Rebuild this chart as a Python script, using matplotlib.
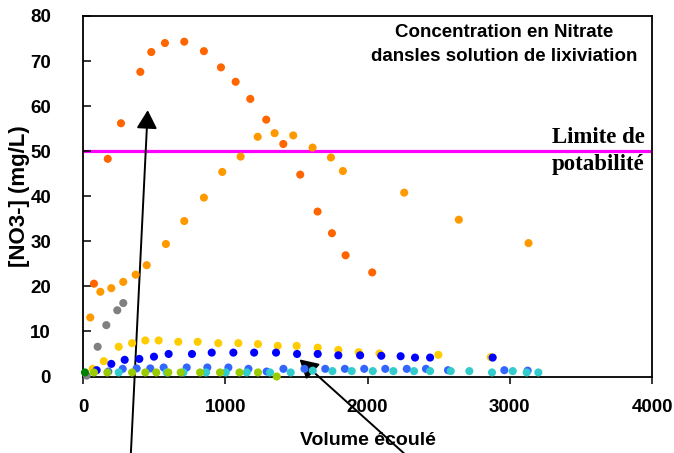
import matplotlib
matplotlib.use("Agg")
import matplotlib.pyplot as plt

# ---------------- data ----------------
x_dark_orange = [77, 174, 267, 403, 480, 576, 712, 850, 970, 1073, 1176, 1288, 1408, 1527, 1649, 1750, 1846, 2033]
y_dark_orange = [20.6, 48.3, 56.2, 67.6, 72.0, 74.0, 74.3, 72.2, 68.6, 65.4, 61.6, 57.0, 51.6, 44.8, 36.6, 31.8, 26.9, 23.1]

x_light_orange = [51, 122, 199, 283, 370, 448, 583, 712, 850, 979, 1108, 1228, 1347, 1478, 1614, 1743, 1827, 2258, 2642, 3132]
y_light_orange = [13.1, 18.8, 19.6, 21.0, 22.6, 24.7, 29.4, 34.5, 39.7, 45.4, 48.8, 53.2, 54.0, 53.5, 50.8, 48.6, 45.6, 40.8, 34.8, 29.6]

x_grey = [26, 103, 164, 241, 283]
y_grey = [0.2, 6.6, 11.4, 14.7, 16.3]

x_yellow = [68, 146, 251, 345, 438, 532, 670, 806, 951, 1092, 1230, 1369, 1502, 1650, 1795, 1938, 2084, 2498, 2866]
y_yellow = [1.7, 3.4, 6.6, 7.4, 8.0, 8.0, 7.7, 7.7, 7.4, 7.4, 7.2, 6.8, 6.8, 6.4, 5.9, 5.4, 5.1, 4.8, 4.3]

x_blue = [96, 199, 293, 396, 499, 602, 766, 905, 1057, 1203, 1357, 1505, 1650, 1795, 1948, 2097, 2233, 2334, 2440, 2880]
y_blue = [1.4, 2.8, 3.7, 3.9, 4.4, 5.0, 5.0, 5.3, 5.3, 5.3, 5.3, 5.0, 5.0, 4.7, 4.7, 4.6, 4.5, 4.2, 4.2, 4.2]

x_light_blue = [178, 279, 377, 473, 567, 729, 874, 1022, 1163, 1291, 1409, 1557, 1703, 1841, 1977, 2125, 2276, 2411, 2566, 2962, 3126]
y_light_blue = [1.1, 1.7, 1.8, 1.8, 2.0, 2.0, 2.0, 2.0, 1.7, 1.1, 1.7, 1.7, 1.7, 1.7, 1.7, 1.7, 1.7, 1.7, 1.4, 1.4, 1.3]

x_cyan = [251, 588, 706, 865, 1004, 1151, 1315, 1460, 1615, 1753, 1889, 2037, 2182, 2327, 2440, 2585, 2716, 2875, 3021, 3119, 3201]
y_cyan = [0.9, 0.9, 0.9, 0.9, 0.9, 0.9, 0.9, 0.9, 1.3, 1.2, 1.2, 1.2, 1.2, 1.2, 1.2, 1.2, 1.2, 0.9, 1.2, 0.9, 0.9]

x_yellow_green = [77, 171, 345, 438, 515, 600, 687, 823, 963, 1100, 1230, 1362]
y_yellow_green = [0.9, 0.9, 0.9, 0.9, 0.9, 0.9, 0.9, 0.9, 0.9, 0.9, 0.9, 0.0]

x_dark_green = [14]
y_dark_green = [0.9]

limit_value = 50
x_ticks = [0, 1000, 2000, 3000, 4000]
y_ticks = [0, 10, 20, 30, 40, 50, 60, 70, 80]

# ---------------- figure ----------------
plt.rcParams['font.family'] = ['Liberation Sans', 'DejaVu Sans']
fig = plt.figure(figsize=(6.74, 4.53), dpi=100)
ax = fig.add_axes([83/674, 1 - 376.5/453, (652 - 83)/674, (376.5 - 16)/453])

ax.axhline(limit_value, color='#FF00FF', lw=2.3, zorder=1)

series = [
    (x_dark_orange, y_dark_orange, '#FF6600'),
    (x_light_orange, y_light_orange, '#FF9900'),
    (x_grey, y_grey, '#808080'),
    (x_yellow, y_yellow, '#FFCC00'),
    (x_blue, y_blue, '#0000FF'),
    (x_light_blue, y_light_blue, '#3366FF'),
    (x_cyan, y_cyan, '#33CCCC'),
    (x_yellow_green, y_yellow_green, '#99CC00'),
    (x_dark_green, y_dark_green, '#008000'),
]
for i, (xs, ys, c) in enumerate(series):
    ax.scatter(xs, ys, s=34, color=c, edgecolors='none', zorder=3 + i, clip_on=False)

ax.set_xlim(0, 4000)
ax.set_ylim(0, 80)
ax.set_xticks(x_ticks)
ax.set_yticks(y_ticks)
ax.tick_params(axis='x', direction='out', length=5, width=1.1, pad=11, labelsize=13.5)
ax.tick_params(axis='y', direction='in', length=6, width=1.1, pad=23, labelsize=13.5)
for lab in ax.get_xticklabels() + ax.get_yticklabels():
    lab.set_fontweight('bold')
for sp in ax.spines.values():
    sp.set_linewidth(1.3)
    sp.set_color('black')

ax.set_xlabel('Volume écoulé', fontsize=14, fontweight='bold', labelpad=12)
ax.set_ylabel('[NO3-] (mg/L)', fontsize=16, fontweight='bold', labelpad=0)

ax.text(2960, 73.7, 'Concentration en Nitrate\ndansles solution de lixiviation',
        ha='center', va='center', fontsize=13.5, fontweight='bold', linespacing=1.5)
ax.text(3950, 50, 'Limite de\npotabilité', ha='right', va='center',
        fontsize=16.5, fontweight='bold', family='Liberation Serif', linespacing=1.4)

arrow_kw = dict(arrowstyle='-|>,head_length=0.8,head_width=0.45', color='black', lw=1.4,
                shrinkA=0, shrinkB=0, mutation_scale=14)
ax.annotate('', xy=(455, 59.1), xytext=(335, -18), arrowprops=arrow_kw, annotation_clip=False)
ax.annotate('', xy=(1522, 3.8), xytext=(2290, -18), arrowprops=arrow_kw, annotation_clip=False)

fig.savefig('out.png', dpi=100)
